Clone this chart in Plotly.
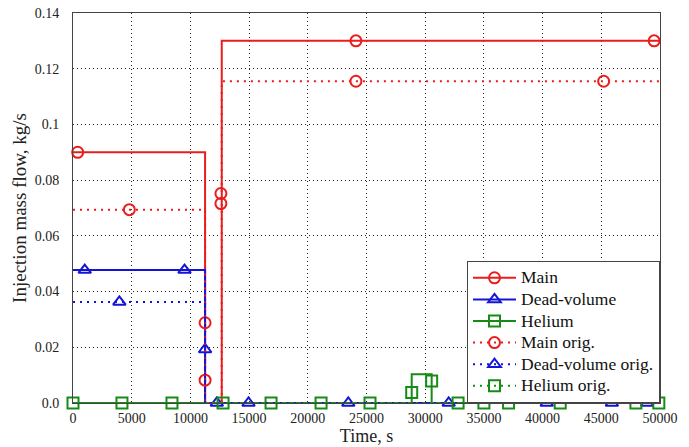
import plotly.graph_objects as go

# Injection mass-flow histories (time in s, flow in kg/s)
main_t = [0, 11250, 11250, 12670, 12670, 50000]
main_v = [0.090, 0.090, 0.0, 0.0, 0.130, 0.130]
main_mark_t = [400, 12600, 12600, 24100, 49500]
main_mark_v = [0.090, 0.0752, 0.0716, 0.130, 0.130]

dead_t = [0, 11250, 11250, 50000]
dead_v = [0.0477, 0.0477, 0.0, 0.0]
dead_mark_t = [1000, 9500, 11250, 12250, 23450, 40350, 48900]
dead_mark_v = [0.0477, 0.0477, 0.0192, 0.0, 0.0, 0.0, 0.0]

helium_t = [0, 28850, 28850, 30550, 30550, 50000]
helium_v = [0.0, 0.0, 0.0103, 0.0103, 0.0, 0.0]
helium_mark_t = [0, 8430, 16870, 25300, 28850, 30550, 35000, 41500, 49900]
helium_mark_v = [0.0, 0.0, 0.0, 0.0, 0.0038, 0.0079, 0.0, 0.0, 0.0]

main_orig_t = [0, 11250, 11250, 12670, 12670, 50000]
main_orig_v = [0.0694, 0.0694, 0.0, 0.0, 0.1155, 0.1155]
main_orig_mark_t = [4800, 11250, 11250, 24100, 45200]
main_orig_mark_v = [0.0694, 0.0288, 0.0082, 0.1155, 0.1155]

dead_orig_t = [0, 11250, 11250, 50000]
dead_orig_v = [0.0363, 0.0363, 0.0, 0.0]
dead_orig_mark_t = [3950, 14950, 32000, 45900]
dead_orig_mark_v = [0.0363, 0.0, 0.0, 0.0]

helium_orig_t = [0, 50000]
helium_orig_v = [0.0, 0.0]
helium_orig_mark_t = [4170, 12780, 21130, 32800, 37100, 47950]
helium_orig_mark_v = [0.0, 0.0, 0.0, 0.0, 0.0, 0.0]

x_ticks = list(range(0, 50001, 5000))
y_ticks = [0, 0.02, 0.04, 0.06, 0.08, 0.1, 0.12, 0.14]
y_tick_text = ["0.0", "0.02", "0.04", "0.06", "0.08", "0.1", "0.12", "0.14"]

RED = "#ec1c1c"
BLUE = "#1414d8"
GREEN = "#168c16"
SERIF = "Liberation Serif"
DOTS = "2px,5px"

series = [
    ("Main", main_t, main_v, main_mark_t, main_mark_v, RED, "solid", "circle-open"),
    ("Dead-volume", dead_t, dead_v, dead_mark_t, dead_mark_v, BLUE, "solid", "triangle-up-open"),
    ("Helium", helium_t, helium_v, helium_mark_t, helium_mark_v, GREEN, "solid", "square-open"),
    ("Main orig.", main_orig_t, main_orig_v, main_orig_mark_t, main_orig_mark_v, RED, DOTS, "circle-open"),
    ("Dead-volume orig.", dead_orig_t, dead_orig_v, dead_orig_mark_t, dead_orig_mark_v, BLUE, DOTS, "triangle-up-open"),
    ("Helium orig.", helium_orig_t, helium_orig_v, helium_orig_mark_t, helium_orig_mark_v, GREEN, DOTS, "square-open"),
]

fig = go.Figure()
for name, t, v, mt, mv, color, dash, symbol in series:
    line = dict(color=color, width=2, dash=dash)
    marker = dict(symbol=symbol, size=11, color=color, line=dict(width=2, color=color))
    # the curve itself
    fig.add_trace(go.Scatter(
        x=t, y=v, mode="lines", name=name, legendgroup=name, showlegend=False,
        line=line, cliponaxis=False, hoverinfo="skip",
    ))
    # markers sitting on the curve
    fig.add_trace(go.Scatter(
        x=mt, y=mv, mode="markers", name=name, legendgroup=name, showlegend=False,
        marker=marker, cliponaxis=False,
    ))
    # legend sample: line with marker (larger label text on a compact row)
    fig.add_trace(go.Scatter(
        x=[None], y=[None], mode="lines+markers",
        name=f'<span style="font-size:17.5px">{name}</span>', legendgroup=name,
        line=line, marker=marker,
    ))

fig.update_layout(
    width=689, height=447,
    margin=dict(l=73, r=29, t=13, b=44),
    paper_bgcolor="white", plot_bgcolor="white",
    font=dict(family=SERIF, size=14, color="#222"),
    showlegend=True,
    legend=dict(
        x=1, y=0, xanchor="right", yanchor="bottom",
        bgcolor="white", bordercolor="#444", borderwidth=1,
        font=dict(family=SERIF, size=14.3, color="#111"),
        itemwidth=43, tracegroupgap=0,
    ),
)
fig.update_xaxes(
    range=[0, 50000], tickvals=x_ticks, ticktext=[str(v) for v in x_ticks],
    showgrid=True, gridcolor="#222", gridwidth=1, griddash="1px,3px",
    showline=True, mirror=True, linecolor="#444", linewidth=1,
    ticks="", zeroline=False, ticklabelstandoff=2, automargin=False,
    tickfont=dict(family=SERIF, size=14, color="#222"),
    title=dict(text="Time, s", font=dict(family=SERIF, size=18, color="#222"), standoff=2),
)
fig.update_yaxes(
    range=[0, 0.14], tickvals=y_ticks, ticktext=y_tick_text,
    showgrid=True, gridcolor="#222", gridwidth=1, griddash="1px,3px",
    showline=True, mirror=True, linecolor="#444", linewidth=1,
    ticks="", zeroline=False, ticklabelstandoff=10, automargin=False,
    tickfont=dict(family=SERIF, size=14, color="#222"),
    title=dict(text="Injection mass flow, kg/s", font=dict(family=SERIF, size=19, color="#222"), standoff=3),
)

fig.write_html("out.html")
